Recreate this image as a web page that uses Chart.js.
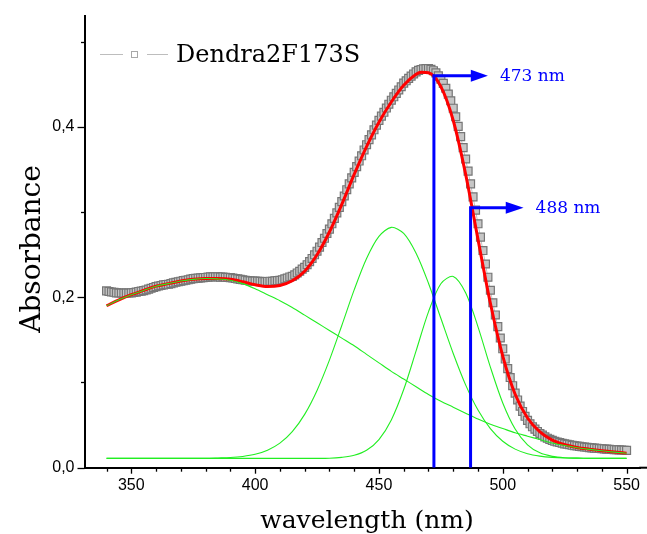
<!DOCTYPE html>
<html>
<head>
<meta charset="utf-8">
<script src="https://cdn.jsdelivr.net/npm/chart.js@4.4.1/dist/chart.umd.min.js"></script>
<style>
  html, body { margin: 0; padding: 0; background: #fff; }
  #wrap { width: 647px; height: 534px; }
</style>
</head>
<body>
<div id="wrap"><canvas id="c" width="647" height="534"></canvas></div>
<script>
// measured spectrum, 1 nm steps
const measWl = [
  340,341,342,343,344,345,346,347,348,349, 350,351,352,353,354,355,356,357,358,359,
  360,361,362,363,364,365,366,367,368,369, 370,371,372,373,374,375,376,377,378,379,
  380,381,382,383,384,385,386,387,388,389, 390,391,392,393,394,395,396,397,398,399,
  400,401,402,403,404,405,406,407,408,409, 410,411,412,413,414,415,416,417,418,419,
  420,421,422,423,424,425,426,427,428,429, 430,431,432,433,434,435,436,437,438,439,
  440,441,442,443,444,445,446,447,448,449, 450,451,452,453,454,455,456,457,458,459,
  460,461,462,463,464,465,466,467,468,469, 470,471,472,473,474,475,476,477,478,479,
  480,481,482,483,484,485,486,487,488,489, 490,491,492,493,494,495,496,497,498,499,
  500,501,502,503,504,505,506,507,508,509, 510,511,512,513,514,515,516,517,518,519,
  520,521,522,523,524,525,526,527,528,529, 530,531,532,533,534,535,536,537,538,539,
  540,541,542,543,544,545,546,547,548,549,550
];
const measAbs = [
  .2075,.2068,.2062,.2058,.2052,.2050,.2050,.2048,.2050,.2050, .2052,.2055,.2060,.2068,.2072,.2078,.2085,.2095,.2105,.2115,
  .2125,.2132,.2138,.2145,.2150,.2152,.2160,.2168,.2176,.2182, .2188,.2195,.2200,.2205,.2212,.2218,.2222,.2225,.2228,.2230,
  .2232,.2236,.2240,.2238,.2240,.2240,.2236,.2238,.2234,.2232, .2230,.2226,.2220,.2215,.2210,.2206,.2200,.2196,.2192,.2190,
  .2190,.2188,.2186,.2184,.2184,.2185,.2188,.2186,.2192,.2195, .2198,.2205,.2215,.2226,.2238,.2245,.2262,.2285,.2305,.2330,
  .2350,.2382,.2418,.2455,.2498,.2540,.2588,.2642,.2692,.2748, .2800,.2862,.2925,.2990,.3055,.3122,.3188,.3262,.3330,.3400,
  .3465,.3532,.3598,.3660,.3728,.3790,.3850,.3905,.3965,.4020, .4075,.4125,.4170,.4220,.4265,.4312,.4352,.4392,.4432,.4470,
  .4512,.4540,.4568,.4595,.4620,.4645,.4662,.4672,.4680,.4682, .4684,.4675,.4658,.4632,.4598,.4558,.4510,.4452,.4383,.4305,
  .4218,.4118,.4005,.3885,.3755,.3622,.3480,.3330,.3178,.3022, .2862,.2705,.2548,.2390,.2235,.2082,.1935,.1792,.1655,.1522,
  .1395,.1275,.1162,.1058,.0962,.0875,.0795,.0722,.0660,.0603, .0555,.0515,.0480,.0452,.0425,.0402,.0382,.0362,.0346,.0332,
  .0320,.0310,.0302,.0295,.0287,.0280,.0275,.0270,.0263,.0258, .0255,.0250,.0246,.0243,.0240,.0236,.0233,.0230,.0228,.0225,
  .0223,.0220,.0218,.0216,.0214,.0212,.0210,.0209,.0207,.0205,.0203
];

// cumulative fit (red)
const fitWl  = [340,345,350,355,360,365,370,375,380,385,390,395,400,405,410,415,420,425,430,435,440,445,450,455,460,465,467,470,475,480,485,490,495,500,505,510,515,520,525,530,535,540,545,550];
const fitAbs = [.190,.197,.203,.208,.213,.216,.219,.221,.222,.2219,.221,.2182,.2147,.2125,.2138,.2193,.2306,.2499,.2766,.309,.3441,.3768,.4054,.4291,.4486,.4616,.4641,.4634,.4472,.4074,.3444,.2679,.1929,.131,.0862,.0583,.042,.0324,.0271,.0238,.0217,.0199,.0184,.0171];

// fit components (green), 5 nm steps
const compWl = [340,345,350,355,360,365,370,375,380,385,390,395,400,405,410,415,420,425,430,435,440,445,450,455,460,465,470,475,480,485,490,495,500,505,510,515,520,525,530,535,540,545,550];
const compBroad = [.190,.197,.203,.208,.213,.216,.219,.221,.222,.2215,.220,.216,.210,.203,.196,.188,.179,.170,.161,.152,.143,.133,.123,.113,.104,.095,.086,.078,.071,.064,.057,.051,.046,.041,.037,.033,.029,.026,.0235,.0215,.0198,.0183,.017];
const compBand1 = [.011,.011,.011,.011,.011,.011,.011,.011,.011,.0114,.0119,.0132,.0157,.0205,.0288,.0423,.0626,.0907,.1262,.1669,.2086,.2454,.2714,.2820,.2749,.2516,.2165,.1753,.1340,.0972,.0676,.0458,.0310,.0218,.0164,.0136,.0121,.0114,.0112,.011,.011,.011,.011];
const compBand2 = [.011,.011,.011,.011,.011,.011,.011,.011,.011,.011,.011,.011,.011,.011,.011,.011,.011,.011,.011,.0121,.0145,.0204,.0330,.0561,.0917,.1370,.1829,.2159,.2244,.2052,.1653,.1181,.0760,.0454,.0269,.0174,.0133,.0117,.0112,.011,.011,.011,.011];

// excitation markers
const markerWl    = [472.2, 487.0];
const markerTop   = [0.460, 0.305];
const arrowBase   = [487.5, 501.6];
const arrowTip    = [494.0, 508.4];
const markerLabel = ['473 nm', '488 nm'];

const xTicks = [340,350,360,370,380,390,400,410,420,430,440,450,460,470,480,490,500,510,520,530,540,550];
const yTicks = [0, 0.1, 0.2, 0.3, 0.4, 0.5];

const seriesName = 'Dendra2F173S';
const xTitle = 'wavelength (nm)';
const yTitle = 'Absorbance';

const BLUE = '#0000ff';
const GREEN = '#22ee22';

const pts = (xs, ys) => xs.map((x, i) => ({ x, y: ys[i] }));

const markerSets = markerWl.map((w, i) => ({
  data: [{ x: w, y: 0 }, { x: w, y: markerTop[i] }, { x: arrowBase[i], y: markerTop[i] }],
  borderColor: BLUE, borderWidth: 3, pointRadius: 0, tension: 0, order: 0, borderJoinStyle: 'miter'
}));

const decor = {
  id: 'decor',
  afterDraw(chart) {
    const ctx = chart.ctx, xs = chart.scales.x, ys = chart.scales.y;
    const y0 = ys.getPixelForValue(0), xl = xs.left;
    ctx.save();
    // axis line runs to the picture edge
    ctx.strokeStyle = '#000'; ctx.lineWidth = 2;
    ctx.beginPath(); ctx.moveTo(xs.right - 1, y0); ctx.lineTo(chart.width, y0); ctx.stroke();
    // tick marks
    ctx.lineWidth = 1.3;
    xTicks.forEach(v => {
      const px = Math.round(xs.getPixelForValue(v)) + 0.5;
      const len = v % 50 === 0 ? 6 : 4;
      ctx.beginPath(); ctx.moveTo(px, y0); ctx.lineTo(px, y0 + len); ctx.stroke();
    });
    yTicks.forEach((v, i) => {
      const py = Math.round(ys.getPixelForValue(v)) + 0.5;
      const len = i % 2 === 0 ? 7 : 3.5;
      ctx.beginPath(); ctx.moveTo(xl, py); ctx.lineTo(xl - len, py); ctx.stroke();
    });

    // arrowheads + labels
    markerWl.forEach((w, i) => {
      const py = ys.getPixelForValue(markerTop[i]);
      const xb = xs.getPixelForValue(arrowBase[i]), xt = xs.getPixelForValue(arrowTip[i]);
      ctx.fillStyle = BLUE;
      ctx.beginPath(); ctx.moveTo(xb - 1, py - 6); ctx.lineTo(xt, py); ctx.lineTo(xb - 1, py + 6); ctx.closePath(); ctx.fill();
      ctx.font = '17px "DejaVu Serif"'; ctx.textBaseline = 'middle'; ctx.textAlign = 'left';
      ctx.fillText(markerLabel[i], xt + 12, py + 1);
    });

    // legend
    ctx.strokeStyle = '#bdbdbd'; ctx.lineWidth = 1;
    ctx.beginPath(); ctx.moveTo(100, 54.5); ctx.lineTo(123, 54.5); ctx.moveTo(147, 54.5); ctx.lineTo(168, 54.5); ctx.stroke();
    ctx.strokeStyle = '#a8a8a8';
    ctx.strokeRect(131.5, 51.5, 6, 6);
    ctx.fillStyle = '#000'; ctx.font = '24px "DejaVu Serif"'; ctx.textBaseline = 'middle';
    ctx.fillText(seriesName, 176, 56);

    // axis titles
    ctx.font = '25px "DejaVu Serif"'; ctx.textAlign = 'center'; ctx.textBaseline = 'alphabetic';
    ctx.fillText(xTitle, 367, 528);
    ctx.translate(40, 249); ctx.rotate(-Math.PI / 2);
    ctx.font = '28px "DejaVu Serif"';
    ctx.fillText(yTitle, 0, 0);
    ctx.restore();
  }
};

new Chart(document.getElementById('c'), {
  type: 'line',
  data: {
    datasets: [
      ...markerSets,
      { data: pts(compWl, compBroad), borderColor: GREEN, borderWidth: 1.1, pointRadius: 0, tension: 0.3, order: 1 },
      { data: pts(compWl, compBand1), borderColor: GREEN, borderWidth: 1.1, pointRadius: 0, tension: 0.3, order: 1 },
      { data: pts(compWl, compBand2), borderColor: GREEN, borderWidth: 1.1, pointRadius: 0, tension: 0.3, order: 1 },
      { data: pts(fitWl, fitAbs), borderColor: '#ff0000', borderWidth: 3, pointRadius: 0, cubicInterpolationMode: 'monotone', order: 2 },
      { label: seriesName, data: pts(measWl, measAbs), borderColor: '#c4c4c4', borderWidth: 1,
        pointStyle: 'rect', pointRadius: 5.6, pointBorderColor: '#767676', pointBorderWidth: 1.2,
        pointBackgroundColor: '#c6c6c6', order: 3 }
    ]
  },
  options: {
    responsive: false, animation: false, devicePixelRatio: 1,
    layout: { padding: { top: 16, right: 0, left: 0, bottom: 0 } },
    plugins: { legend: { display: false }, tooltip: { enabled: false } },
    scales: {
      x: {
        type: 'linear', min: 331.1, max: 555.5,
        afterFit: s => { s.height = 66.3; s.paddingLeft = 0; s.paddingRight = 0; },
        afterBuildTicks: s => { s.ticks = xTicks.map(v => ({ value: v })); },
        grid: { display: false, drawTicks: false },
        border: { color: '#000', width: 2 },
        ticks: { autoSkip: false, maxRotation: 0, padding: 8, color: '#000',
                 font: { family: '"Liberation Sans"', size: 16 },
                 callback: v => (v % 50 === 0 ? String(v) : '') }
      },
      y: {
        type: 'linear', min: 0, max: 0.53,
        afterFit: s => { s.width = 84.5; s.paddingTop = 0; s.paddingBottom = 0; },
        afterBuildTicks: s => { s.ticks = yTicks.map(v => ({ value: v })); },
        grid: { display: false, drawTicks: false },
        border: { color: '#000', width: 2 },
        ticks: { autoSkip: false, padding: 10, color: '#000',
                 font: { family: '"Liberation Sans"', size: 16 },
                 callback: (v, i) => (i % 2 === 0 ? v.toFixed(1).replace('.', ',') : '') }
      }
    }
  },
  plugins: [decor]
});
</script>
</body>
</html>
